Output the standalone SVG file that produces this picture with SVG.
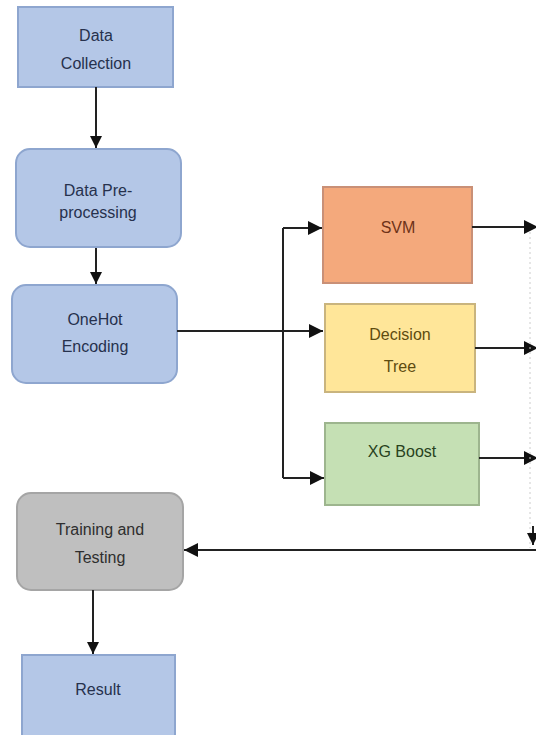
<svg xmlns="http://www.w3.org/2000/svg" width="536" height="735" viewBox="0 0 536 735">
<defs>
<marker id="ah" viewBox="0 0 10 10" refX="10" refY="5" markerWidth="12" markerHeight="12" markerUnits="userSpaceOnUse" orient="auto">
<path d="M0,0 L10,5 L0,10 z" fill="#111"/>
</marker>
<marker id="ahb" viewBox="0 0 10 10" refX="10" refY="5" markerWidth="14" markerHeight="14" markerUnits="userSpaceOnUse" orient="auto">
<path d="M0,0 L10,5 L0,10 z" fill="#111"/>
</marker>
</defs>
<style>
text{font-family:"Liberation Sans",Arial,sans-serif;font-size:16px;text-anchor:middle}
.blue{fill:#B4C7E7;stroke:#8EA6CF;stroke-width:2}
.gray{fill:#BFBFBF;stroke:#A5A5A5;stroke-width:2}
.svm{fill:#F4A97C;stroke:#C99077;stroke-width:2}
.dt{fill:#FFE699;stroke:#C9B47E;stroke-width:2}
.xg{fill:#C5E0B4;stroke:#9DB58E;stroke-width:2}
.tb{fill:#26314D}
.conn{fill:none;stroke:#222;stroke-width:2}
</style>
<rect width="536" height="735" fill="#fff"/>
<g id="data-collection">
<rect class="blue" x="18" y="7" width="155" height="80"/>
<text class="tb" x="96" y="41">Data</text>
<text class="tb" x="96" y="69">Collection</text>
</g>
<g id="preprocessing">
<rect class="blue" x="16" y="149" width="165" height="98" rx="14"/>
<text class="tb" x="98" y="196">Data Pre-</text>
<text class="tb" x="98" y="218">processing</text>
</g>
<g id="onehot">
<rect class="blue" x="12" y="285" width="165" height="98" rx="14"/>
<text class="tb" x="95" y="325">OneHot</text>
<text class="tb" x="95" y="352">Encoding</text>
</g>
<g id="svm">
<rect class="svm" x="323" y="187" width="149" height="96"/>
<text x="398" y="233" fill="#6E3218">SVM</text>
</g>
<g id="decision-tree">
<rect class="dt" x="325" y="304" width="150" height="88"/>
<text x="400" y="340" fill="#5E4C10">Decision</text>
<text x="400" y="372" fill="#5E4C10">Tree</text>
</g>
<g id="xgboost">
<rect class="xg" x="325" y="423" width="154" height="82"/>
<text x="402" y="457" fill="#28421D">XG Boost</text>
</g>
<g id="training">
<rect class="gray" x="17" y="493" width="166" height="97" rx="14"/>
<text x="100" y="535" fill="#2E2E2E">Training and</text>
<text x="100" y="563" fill="#2E2E2E">Testing</text>
</g>
<g id="result">
<rect class="blue" x="22" y="655" width="153" height="90"/>
<text class="tb" x="98" y="695">Result</text>
</g>
<g id="connectors">
<line class="conn" x1="96" y1="87" x2="96" y2="148" marker-end="url(#ah)"/>
<line class="conn" x1="96" y1="248" x2="96" y2="284" marker-end="url(#ah)"/>
<line class="conn" x1="177" y1="331" x2="323" y2="331" marker-end="url(#ahb)"/>
<polyline class="conn" points="283,228 283,478"/>
<line class="conn" x1="283" y1="228" x2="322" y2="228" marker-end="url(#ahb)"/>
<line class="conn" x1="283" y1="478" x2="324" y2="478" marker-end="url(#ahb)"/>
<line class="conn" x1="472" y1="227" x2="538" y2="227" marker-end="url(#ahb)"/>
<line class="conn" x1="475" y1="348" x2="538" y2="348" marker-end="url(#ahb)"/>
<line class="conn" x1="479" y1="458" x2="538" y2="458" marker-end="url(#ahb)"/>
<line x1="530" y1="232" x2="530" y2="548" stroke="#ccc" stroke-width="1" stroke-dasharray="2,3"/>
<line class="conn" x1="533" y1="526" x2="533" y2="545" marker-end="url(#ah)"/>
<line class="conn" x1="536" y1="550" x2="184" y2="550" marker-end="url(#ahb)"/>
<line class="conn" x1="93" y1="590" x2="93" y2="654" marker-end="url(#ah)"/>
</g>
</svg>
